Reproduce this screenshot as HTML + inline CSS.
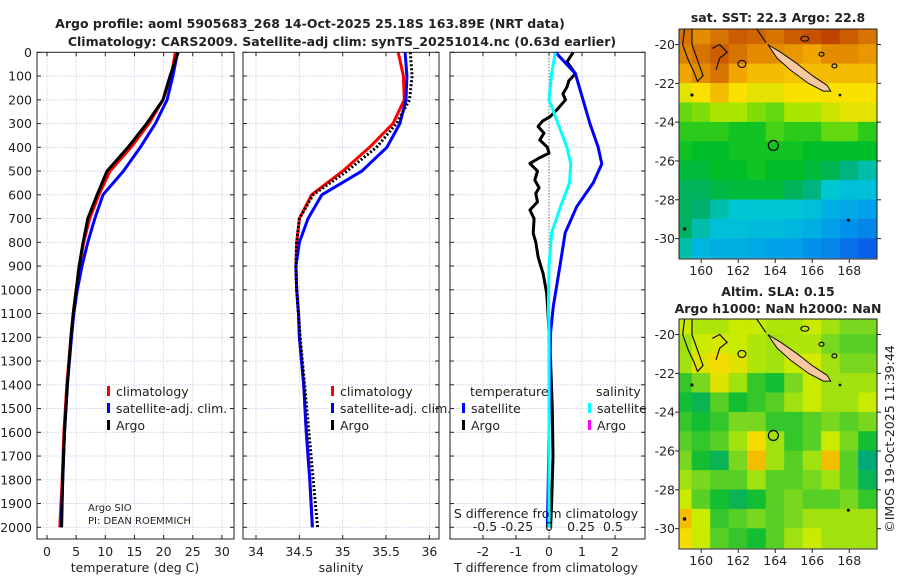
<!DOCTYPE html>
<html><head><meta charset="utf-8"><style>
html,body{margin:0;padding:0;background:#fff;}
svg{display:block;font-family:"DejaVu Sans","Liberation Sans",sans-serif;}
</style></head><body>
<svg id="c" width="900" height="580" viewBox="0 0 900 580" xmlns="http://www.w3.org/2000/svg"></svg>
<script>
// ---- data ----
const depths = [0,100,200,300,400,500,600,700,800,900,1000,1100,1200,1400,1600,1800,2000];
const tempArgo = [22.5,21.1,19.9,17.1,13.9,10.3,8.6,7.0,6.2,5.5,5.0,4.5,4.1,3.5,3.0,2.7,2.5];
const tempClim = [22.0,21.3,19.9,17.5,14.4,10.8,8.9,7.3,6.3,5.6,5.0,4.5,4.1,3.4,2.9,2.6,2.2];
const tempSat  = [22.4,21.6,20.6,18.6,16.0,13.1,9.6,8.2,7.0,6.0,5.2,4.6,4.2,3.5,3.0,2.7,2.4];
const salArgo = [35.78,35.8,35.77,35.62,35.39,35.05,34.66,34.5,34.47,34.46,34.47,34.49,34.51,34.56,34.61,34.66,34.71];
const salClim = [35.64,35.7,35.71,35.58,35.31,35.0,34.64,34.5,34.47,34.46,34.47,34.49,34.5,34.55,34.58,34.62,34.65];
const salSat  = [35.72,35.74,35.73,35.66,35.51,35.22,34.76,34.6,34.5,34.46,34.47,34.49,34.5,34.55,34.58,34.62,34.65];
const diffDepths = [0,90,200,300,400,470,550,650,760,900,1070,1180,1400,1600,1800,2000];
const tDiffSat = [0.2,0.8,1.03,1.24,1.49,1.6,1.34,0.84,0.49,0.33,0.13,0.05,0.02,0.0,-0.02,-0.05];
const sDiffSat = [0.05,0.02,0.0,0.07,0.14,0.17,0.16,0.09,0.02,0.0,-0.005,0.0,0.0,0.0,0.0,0.0];
const argoDiffDepths = [0,40,90,120,145,175,200,240,271,290,313,340,369,400,425,445,468,500,538,570,594,630,664,700,762,800,861,900,931,1015,1100,1300,1500,1700,1900,2000];
const tDiffArgo = [0.73,0.55,0.8,0.6,0.55,0.42,0.5,0.25,0.03,-0.2,-0.33,-0.15,-0.28,-0.05,0.0,-0.3,-0.58,-0.35,-0.43,-0.3,-0.4,-0.35,-0.58,-0.45,-0.48,-0.4,-0.33,-0.25,-0.18,-0.07,-0.03,0.05,0.1,0.12,0.08,0.05];
const depthTicks = [0,100,200,300,400,500,600,700,800,900,1000,1100,1200,1300,1400,1500,1600,1700,1800,1900,2000];
const tempTicks = [0,5,10,15,20,25,30];
const salTicks = [34,34.5,35,35.5,36];
const salTickLabels = ["34","34.5","35","35.5","36"];
const tDiffTicks = [-2,-1,0,1,2];
const sDiffTicks = [-0.5,-0.25,0,0.25,0.5];
const sstGrid = [
[.85,.8,.85,.9,.88,.85,.9,.92,.95,.9,.85],
[.82,.85,.9,.85,.8,.8,.78,.75,.8,.8,.78],
[.75,.8,.85,.75,.7,.7,.68,.7,.7,.7,.7],
[.6,.62,.7,.62,.6,.6,.62,.62,.62,.62,.62],
[.5,.52,.55,.55,.52,.5,.55,.55,.58,.6,.6],
[.45,.45,.45,.42,.42,.48,.45,.45,.5,.5,.45],
[.42,.4,.4,.42,.42,.42,.42,.4,.4,.4,.4],
[.38,.38,.4,.4,.42,.4,.4,.38,.36,.32,.3],
[.35,.35,.37,.38,.38,.38,.35,.32,.28,.25,.25],
[.35,.33,.3,.28,.28,.27,.27,.25,.2,.18,.15],
[.34,.3,.25,.25,.24,.24,.22,.2,.15,.12,.1],
[.3,.22,.2,.2,.18,.16,.15,.12,.1,.06,.03]];
const slaGrid = [
[.65,.62,.62,.65,.65,.62,.62,.65,.6,.55,.55],
[.6,.65,.68,.65,.62,.6,.62,.62,.55,.5,.5],
[.6,.7,.75,.7,.62,.6,.65,.68,.6,.55,.55],
[.45,.55,.7,.6,.45,.4,.55,.65,.6,.6,.6],
[.4,.35,.5,.4,.45,.5,.6,.65,.6,.6,.65],
[.45,.4,.45,.55,.55,.45,.45,.5,.55,.5,.55],
[.5,.45,.5,.6,.75,.6,.45,.5,.65,.55,.4],
[.55,.4,.35,.55,.8,.6,.5,.6,.8,.5,.3],
[.6,.55,.5,.5,.6,.5,.5,.55,.6,.5,.35],
[.65,.5,.4,.35,.4,.5,.55,.5,.5,.55,.45],
[.8,.65,.45,.5,.55,.5,.55,.6,.6,.6,.6],
[.75,.65,.5,.45,.4,.5,.6,.65,.6,.6,.6]];
const mapLonTicks = [160,162,164,166,168];
const mapLatTicks = [-20,-22,-24,-26,-28,-30];
const argoLon = 163.9, argoLat = -25.2;

// ---- helpers ----
const svg = document.getElementById('c');
const NS = 'http://www.w3.org/2000/svg';
function mk(tag, attrs, parent){const e=document.createElementNS(NS,tag);for(const k in attrs)e.setAttribute(k,attrs[k]);(parent||svg).appendChild(e);return e;}
function txt(x,y,s,size,anchor,weight,parent){const e=mk('text',{x:x,y:y,'font-size':size,'text-anchor':anchor||'middle','font-weight':weight||'normal',fill:'#222'},parent);e.textContent=s;return e;}
const Y0=52.3, YS=0.2375, YB=539;
const yD = d => Y0 + d*YS;
const xT = t => 47 + 5.83*t;
const xS = s => 256 + 86.7*(s-34);
const xTD = v => 549 + 33*v;
const xSD = v => 549 + 128*v;
const FS = 12.5;

function panel(x0,x1,name,vticks,vx){
  const g=mk('g',{});
  
  
  mk('rect',{x:x0,y:Y0,width:x1-x0,height:YB-Y0,fill:'#fff'},g);
  depthTicks.forEach(d=>{if(d>0)mk('line',{x1:x0,x2:x1,y1:yD(d),y2:yD(d),stroke:'#c8c8e8','stroke-width':0.8,'stroke-dasharray':'1.5,1.5'},g);});
  vticks.forEach(v=>{const x=vx(v);mk('line',{x1:x,x2:x,y1:Y0,y2:YB,stroke:'#d8c8e0','stroke-width':0.8,'stroke-dasharray':'1.5,1.5'},g);});
  depthTicks.forEach(d=>{mk('line',{x1:x0,x2:x0+4,y1:yD(d),y2:yD(d),stroke:'#222'},g);mk('line',{x1:x1-4,x2:x1,y1:yD(d),y2:yD(d),stroke:'#222'},g);});
  vticks.forEach(v=>{const x=vx(v);mk('line',{x1:x,x2:x,y1:YB,y2:YB-4,stroke:'#222'},g);mk('line',{x1:x,x2:x,y1:Y0,y2:Y0+4,stroke:'#222'},g);});
  return g;
}
function line(xs,ds,fx,color,w,name,dash){
  const pts=xs.map((v,i)=>fx(v).toFixed(1)+','+yD(ds[i]).toFixed(1)).join(' ');
  const p=mk('polyline',{points:pts,fill:'none',stroke:color,'stroke-width':w,'stroke-linejoin':'round'});
  if(dash)p.setAttribute('stroke-dasharray',dash);
  
  
  return p;
}
function frame(x0,x1){mk('rect',{x:x0,y:Y0,width:x1-x0,height:YB-Y0,fill:'none',stroke:'#222','stroke-width':1});}

// ---- titles ----
let t1=txt(310,28,'Argo profile: aoml 5905683_268 14-Oct-2025 25.18S 163.89E (NRT data)',12.5,'middle','bold');


let t2=txt(342,46,'Climatology: CARS2009. Satellite-adj clim: synTS_20251014.nc (0.63d earlier)',12.5,'middle','bold');



// depth labels
depthTicks.forEach(d=>{const e=txt(32,yD(d)+4.5,String(d),FS,'end');

});

// ---- panel 1: temperature ----
panel(37,234,'temperature-panel',tempTicks,xT);
line(tempClim,depths,xT,'#ff0000',3,'temp-climatology-line');
line(tempSat,depths,xT,'#0000ff',3,'temp-satellite-line');
line(tempArgo,depths,xT,'#000000',3,'temp-argo-line');
frame(37,234);
tempTicks.forEach(v=>{const e=txt(xT(v),556,String(v),FS);

});
let ax1=txt(135,572,'temperature (deg C)',FS);



// ---- panel 2: salinity ----
panel(243,439,'salinity-panel',salTicks,xS);
line(salClim,depths,xS,'#ff0000',3,'sal-climatology-line');
line(salSat,depths,xS,'#0000ff',3,'sal-satellite-line');
line(salArgo,depths,xS,'#000000',3,'sal-argo-line','2,2');
frame(243,439);
salTicks.forEach((v,i)=>{const e=txt(xS(v),556,salTickLabels[i],FS);

});
let ax2=txt(341,572,'salinity',FS);



// ---- panel 3: differences ----
panel(450,645,'difference-panel',tDiffTicks,xTD);
mk('line',{x1:549,x2:549,y1:Y0,y2:YB,stroke:'#335522','stroke-width':1,'stroke-dasharray':'1,2'});
line(tDiffArgo,argoDiffDepths,xTD,'#000000',3,'tdiff-argo-line');
line(tDiffSat,diffDepths,xTD,'#0000ff',3,'tdiff-satellite-line');
line(sDiffSat,diffDepths,xSD,'#00ffff',3,'sdiff-satellite-line');
frame(450,645);
tDiffTicks.forEach(v=>{const e=txt(xTD(v),556,String(v),FS);

});
sDiffTicks.forEach(v=>{const e=txt(xSD(v),531,String(v),FS);

});
let ax3=txt(546,518,'S difference from climatology',FS);


let ax4=txt(546,572,'T difference from climatology',FS);



// ---- legends ----
function legend(x,y,color,label,name){
  const g=mk('g',{});
  
  
  mk('rect',{x:x,y:y-10,width:3,height:10,fill:color},g);
  txt(x+9,y,label,FS,'start','normal',g);
}
legend(107,396,'#ff0000','climatology','legend-temp-climatology');
legend(107,413,'#0000ff','satellite-adj. clim.','legend-temp-satellite');
legend(107,430,'#000000','Argo','legend-temp-argo');
legend(331,396,'#ff0000','climatology','legend-sal-climatology');
legend(331,413,'#0000ff','satellite-adj. clim.','legend-sal-satellite');
legend(331,430,'#000000','Argo','legend-sal-argo');
let lt=txt(470,396,'temperature',FS,'start');


let ls=txt(596,396,'salinity',FS,'start');


legend(462,413,'#0000ff','satellite','legend-tdiff-satellite');
legend(462,430,'#000000','Argo','legend-tdiff-argo');
legend(588,413,'#00ffff','satellite','legend-sdiff-satellite');
legend(588,430,'#ff00ff','Argo','legend-sdiff-argo');
let pi1=txt(88,511,'Argo SIO',10,'start');


let pi2=txt(88,524,'PI: DEAN ROEMMICH',10,'start');



// ---- maps ----
const sstStops=[[0,[10,80,230]],[.15,[0,160,235]],[.28,[0,200,210]],[.33,[0,175,110]],[.4,[0,190,40]],[.48,[70,210,20]],[.55,[170,230,0]],[.62,[250,225,0]],[.75,[240,165,0]],[.85,[215,115,0]],[1,[180,45,0]]];
const slaStops=[[0,[0,150,160]],[.3,[0,170,120]],[.4,[20,190,50]],[.55,[120,215,30]],[.65,[200,235,0]],[.75,[245,220,0]],[.85,[240,160,0]],[1,[220,100,0]]];
function cmap(v,stops){for(let i=1;i<stops.length;i++){if(v<=stops[i][0]){const a=stops[i-1],b=stops[i];const f=(v-a[0])/(b[0]-a[0]);const c=a[1].map((x,k)=>Math.round(x+(b[1][k]-x)*f));return 'rgb('+c.join(',')+')';}}return 'rgb('+stops[stops.length-1][1].join(',')+')';}
function drawMap(yTop,yBot,grid,stops,name){
  const X0=679,X1=877, lon0=158.8, lon1=169.5;
  const xL = lon => X0+(lon-lon0)*(X1-X0)/(lon1-lon0);
  const yL = lat => yTop + (-19.2-lat)*(yBot-yTop)/11.85;
  const g=mk('g',{});
  
  
  const clip=mk('clipPath',{id:name+'-clip'},g);
  mk('rect',{x:X0,y:yTop,width:X1-X0,height:yBot-yTop},clip);
  const gg=mk('g',{'clip-path':'url(#'+name+'-clip)'},g);
  grid.forEach((row,r)=>row.forEach((v,c)=>{
    const lonA=158.5+c, latA=-19+(-r);
    const cell=mk('rect',{x:xL(lonA)-0.3,y:yL(latA)-0.3,width:xL(lonA+1)-xL(lonA)+0.6,height:yL(latA-1)-yL(latA)+0.6,fill:cmap(v,stops)},gg);
    
    
  }));
  const nc=[[163.6,-20.0],[164.3,-20.4],[165.2,-21.0],[166.0,-21.6],[166.8,-22.1],[167.0,-22.4],[166.6,-22.4],[165.8,-22.0],[164.8,-21.3],[164.1,-20.7]];
  mk('polygon',{points:nc.map(p=>xL(p[0])+','+yL(p[1])).join(' '),fill:'#f8c8a0',stroke:'#111','stroke-width':1},gg);
  const c1=[[159.1,-19.2],[159.0,-20.0],[159.3,-20.8],[159.6,-21.4],[159.8,-21.9],[160.1,-21.6],[159.8,-20.8],[159.5,-20.0],[159.5,-19.2]];
  mk('polyline',{points:c1.map(p=>xL(p[0])+','+yL(p[1])).join(' '),fill:'none',stroke:'#111','stroke-width':1.2},gg);
  const c3=[[160.6,-20.2],[161.0,-20.0],[161.4,-20.4],[161.0,-20.7],[160.8,-21.3]];
  mk('polyline',{points:c3.map(p=>xL(p[0])+','+yL(p[1])).join(' '),fill:'none',stroke:'#111','stroke-width':1.2},gg);
  mk('ellipse',{cx:xL(162.2),cy:yL(-21.0),rx:4,ry:3.5,fill:'none',stroke:'#111','stroke-width':1.2},gg);
  mk('ellipse',{cx:xL(165.6),cy:yL(-19.7),rx:4,ry:2.5,fill:'none',stroke:'#111','stroke-width':1.2},gg);
  mk('ellipse',{cx:xL(166.5),cy:yL(-20.5),rx:2.5,ry:2,fill:'none',stroke:'#111','stroke-width':1.2},gg);
  mk('ellipse',{cx:xL(167.2),cy:yL(-21.1),rx:2.5,ry:2,fill:'none',stroke:'#111','stroke-width':1.2},gg);
  mk('polyline',{points:xL(163.0)+','+yL(-19.2)+' '+xL(163.5)+','+yL(-19.9),fill:'none',stroke:'#111','stroke-width':1.2},gg);
  mk('circle',{cx:xL(159.1),cy:yL(-29.5),r:1.8,fill:'#111'},gg);
  mk('circle',{cx:xL(167.95),cy:yL(-29.05),r:1.6,fill:'#111'},gg);
  mk('circle',{cx:xL(159.5),cy:yL(-22.6),r:1.6,fill:'#111'},gg);
  mk('circle',{cx:xL(167.5),cy:yL(-22.6),r:1.4,fill:'#111'},gg);
  const mk1=mk('circle',{cx:xL(argoLon),cy:yL(argoLat),r:5,fill:'none',stroke:'#111','stroke-width':1.3},gg);
  
  
  mk('rect',{x:X0,y:yTop,width:X1-X0,height:yBot-yTop,fill:'none',stroke:'#222','stroke-width':1},g);
  mapLonTicks.forEach(l=>{mk('line',{x1:xL(l),x2:xL(l),y1:yBot,y2:yBot+4,stroke:'#222'},g);
    const e=txt(xL(l),yBot+16,String(l),FS,'middle','normal',g);
    
    });
  mapLatTicks.forEach(l=>{mk('line',{x1:X0-4,x2:X0,y1:yL(l),y2:yL(l),stroke:'#222'},g);
    mk('line',{x1:X1,x2:X1+4,y1:yL(l),y2:yL(l),stroke:'#222'},g);
    const e=txt(X0-4,yL(l)+4.5,String(l),FS,'end','normal',g);
    
    });
}
drawMap(29,259,sstGrid,sstStops,'sst-map');
drawMap(319,549,slaGrid,slaStops,'sla-map');
let m1=txt(778,22,'sat. SST: 22.3 Argo: 22.8',12.5,'middle','bold');


let m2=txt(778,296,'Altim. SLA: 0.15',12.5,'middle','bold');


let m3=txt(778,313,'Argo h1000: NaN h2000: NaN',12.5,'middle','bold');


let cp=txt(0,0,'©IMOS 19-Oct-2025 11:39:44',FS,'middle');
cp.setAttribute('transform','translate(894,439) rotate(-90)');


</script>
</body></html>
